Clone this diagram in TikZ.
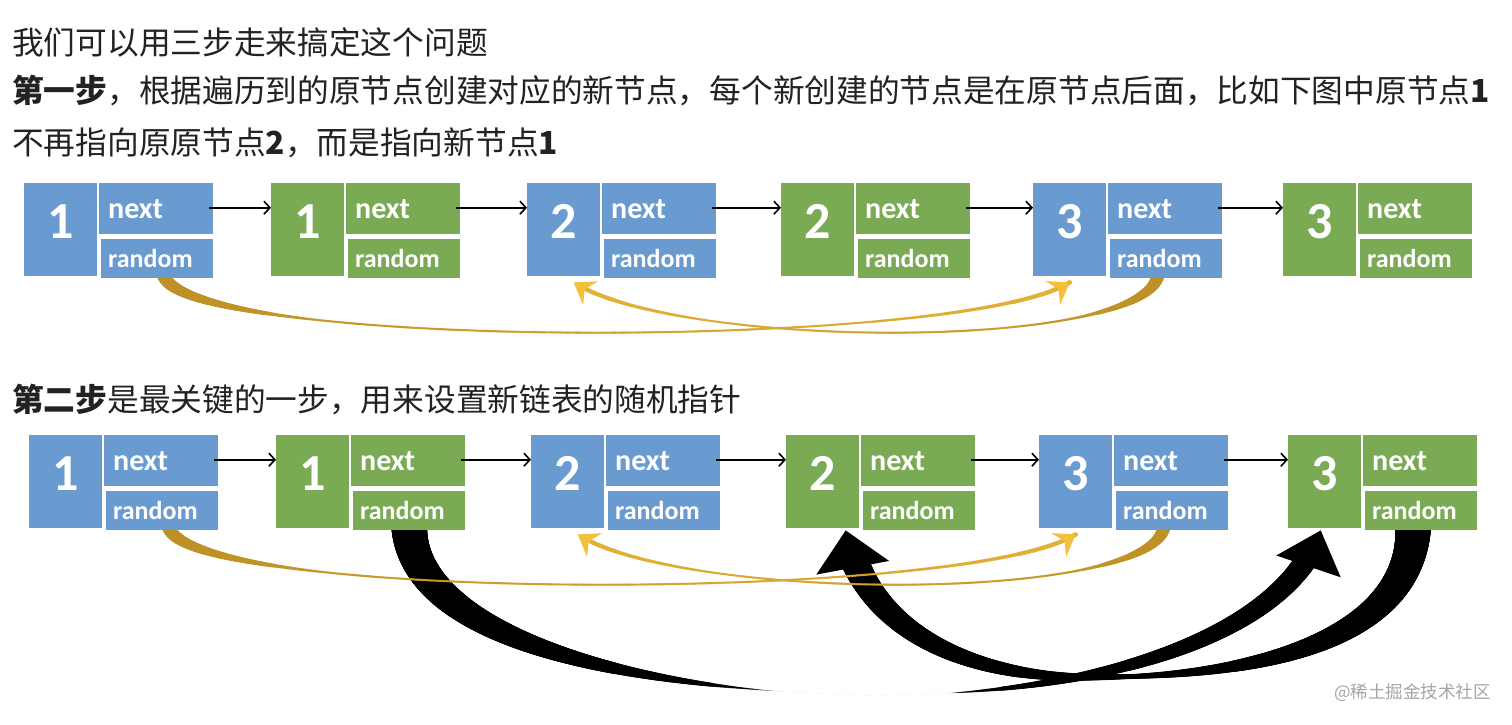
\documentclass[tikz,border=0pt]{standalone}
\usepackage{fontspec}
\usetikzlibrary{arrows.meta,calc,decorations.markings}
\newfontfamily\cjk{Noto Sans CJK SC}
\newfontfamily\carl{Carlito}
\newcommand\nodenumfont{\carl\bfseries\fontsize{52pt}{52pt}\selectfont}
\newcommand\nodenextfont{\carl\bfseries\fontsize{30pt}{32pt}\selectfont}
\newcommand\noderandfont{\carl\bfseries\fontsize{26pt}{28pt}\selectfont}
\newcommand\linefont{\cjk\fontsize{31.7pt}{38pt}\selectfont}
\newcommand\wmfont{\cjk\fontsize{17.5pt}{20pt}\selectfont}
\definecolor{nblue}{RGB}{106,155,208}
\definecolor{ngreen}{RGB}{122,171,84}
\definecolor{gA}{RGB}{188,144,38}
\definecolor{gB}{RGB}{228,178,52}
\definecolor{gHead}{RGB}{243,192,60}
\definecolor{txtc}{RGB}{34,34,34}
\definecolor{wmc}{RGB}{165,165,165}
\pgfdeclarelayer{back}\pgfdeclarelayer{bg}\pgfsetlayers{back,bg,main}
% tapered stroke: #1 colour, #2 width expression, #3 path
\newcommand\taper[3]{%
  \path[decorate,decoration={markings,
    mark=between positions 0 and 1 step 1pt with {%
      \pgfmathsetmacro\tpD{\pgfkeysvalueof{/pgf/decoration/mark info/distance from start}}%
      \pgfmathsetmacro\tpL{\pgfdecoratedpathlength}%
      \pgfmathsetmacro\tpS{\tpD/\tpL}%
      \pgfmathsetmacro\tpR{max(0.02,(#2)/2)}%
      \pgfmathtruncatemacro\tpP{100*(1-\tpS)}%
      \fill[#1] (0,0) circle[radius=\tpR pt];}}] #3;}
% triangular head: #1 colour, #2 tip, #3 control point, #4 length, #5 half width
\newcommand\blockhead[5]{%
  \coordinate (hb) at ($(#2)!#4!(#3)$);
  \fill[#1] (#2) -- ($(hb)!#5!90:(#2)$) -- ($(hb)!#5!-90:(#2)$) -- cycle;}
% notched head: #1 colour, #2 tip, #3 control point
\newcommand\goldhead[3]{%
  \coordinate (hb) at ($(#2)!20pt!(#3)$);
  \fill[#1] (#2) -- ($(hb)!14pt!90:(#2)$) -- ($(#2)!13pt!(#3)$) -- ($(hb)!14pt!-90:(#2)$) -- cycle;}
\tikzset{
  bigbox/.style={anchor=north west, minimum width=73pt, minimum height=93pt, inner sep=0pt, text=white, font=\nodenumfont, text depth=16pt},
  nextbox/.style={anchor=north west, minimum height=51pt, inner xsep=9pt, inner ysep=0pt, text width=96pt, align=left, text=white, font=\nodenextfont},
  randbox/.style={anchor=north west, minimum height=39pt, inner xsep=7pt, inner ysep=0pt, text width=98pt, align=left, text=white, font=\noderandfont},
  nextarrow/.style={draw=black, line width=1.6pt, -{Straight Barb[length=6pt,width=13pt]}},
  txt/.style={anchor=base west, inner sep=0pt, text=txtc, font=\linefont},
}
\begin{document}
\begin{tikzpicture}[x=1pt,y=-1pt]
\useasboundingbox (0,0) rectangle (1512,724);
\begin{pgfonlayer}{back}
  \fill[white] (0,0) rectangle (1512,724);
\end{pgfonlayer}

% text
\node[txt] (t1) at (12,54) {我们可以用三步走来搞定这个问题};
\node[txt] (t2) at (12,102) {\textbf{第一步}，根据遍历到的原节点创建对应的新节点，每个新创建的节点是在原节点后面，比如下图中原节点\textbf{1}};
\node[txt] (t3) at (12,154) {不再指向原原节点\textbf{2}，而是指向新节点\textbf{1}};
\node[txt] (t4) at (12,411) {\textbf{第二步}是最关键的一步，用来设置新链表的随机指针};
\node[anchor=base east, inner sep=0pt, text=wmc, font=\wmfont] (wm) at (1491,698) {@稀土掘金技术社区};

% row 1
\foreach \i/\L/\c/\d in {1/24/nblue/1, 2/271/ngreen/1, 3/527/nblue/2, 4/781/ngreen/2, 5/1033/nblue/3, 6/1283/ngreen/3} {
  \node[bigbox, fill=\c] (b-1-\i) at (\L,183) {\d};
  \node[nextbox, fill=\c] (n-1-\i) at (\L+75,183) {next};
  \node[randbox, fill=\c] (r-1-\i) at (\L+77,239) {random};
}
% row 2
\foreach \i/\L/\c/\d in {1/29/nblue/1, 2/276/ngreen/1, 3/531/nblue/2, 4/786/ngreen/2, 5/1039/nblue/3, 6/1288/ngreen/3} {
  \node[bigbox, fill=\c] (b-2-\i) at (\L,435) {\d};
  \node[nextbox, fill=\c] (n-2-\i) at (\L+75,435) {next};
  \node[randbox, fill=\c] (r-2-\i) at (\L+77,491) {random};
}
\foreach \r in {1,2} {
  \foreach \i [count=\j from 2] in {1,...,5} {
    \draw[nextarrow] ($(n-\r-\i.east)+(-4,-1)$) -- ($(b-\r-\j.west |- n-\r-\i.east)+(0,-1)$);
  }
}

% free points of the curves
\coordinate (cbot) at (865,695);
\coordinate (dmid) at (1075,677);
\coordinate (c-t) at ($(b-2-6.south)+(-4,2)$);
\coordinate (c-c) at ($(c-t)+(-38,112)$);
\coordinate (d-t) at ($(b-2-4.south)+(23,2)$);
\coordinate (d-c) at ($(d-t)+(18,96)$);
\foreach \r in {1,2} {
  \coordinate (ga-\r-t) at ($(b-\r-5.south)+(0,6)$);
  \coordinate (ga-\r-c) at ($(ga-\r-t)+(-109,68)$);
  \coordinate (gb-\r-t) at ($(b-\r-3.south)+(10,6)$);
  \coordinate (gb-\r-c) at ($(gb-\r-t)+(107,68)$);
}

\begin{pgfonlayer}{bg}
  % black arrows (step 2)
  \taper{black}{(36*max(0.0001,(0.42-\tpS)/0.42)^1.2*(\tpS<0.42) + 24*max(0.0001,(\tpS-0.58)/0.42)^0.85*(\tpS>0.58))*(\tpD<\tpL-34)}
    {($(r-2-2.south)+(0,-6)$) .. controls +(1,118) and +(-215,-3) .. (cbot) .. controls +(215,3) and (c-c) .. (c-t)}
  \blockhead{black}{c-t}{c-c}{38pt}{34pt}
  \taper{black}{(5 + 31*max(0.0001,(0.5-\tpS)/0.5)^1.3*(\tpS<0.5) + 26*max(0.0001,(\tpS-0.5)/0.5)^1.2*(\tpS>0.5))*(\tpD<\tpL-34)}
    {($(r-2-6.south)+(-8,-6)$) .. controls +(0,118) and +(175,3) .. (dmid) .. controls +(-115,-3) and (d-c) .. (d-t)}
  \blockhead{black}{d-t}{d-c}{38pt}{37pt}
  % gold arrows
  \foreach \r in {1,2} {
    \taper{gA!\tpP!gB}{(2.4 + 11*max(0,(0.2-\tpS)/0.2)*max(0,(0.2-\tpS)/0.2) + 2.4*max(0,(\tpS-0.75)/0.25))*(\tpD<\tpL-14)}
      {($(r-\r-1.south)+(6,-5)$) .. controls +(12,78) and (ga-\r-c) .. (ga-\r-t)}
    \goldhead{gHead}{ga-\r-t}{ga-\r-c}
    \taper{gA!\tpP!gB}{(2.4 + 11*max(0,(0.2-\tpS)/0.2)*max(0,(0.2-\tpS)/0.2) + 2.4*max(0,(\tpS-0.75)/0.25))*(\tpD<\tpL-14)}
      {($(r-\r-5.south)+(-8,-5)$) .. controls +(-8,78) and (gb-\r-c) .. (gb-\r-t)}
    \goldhead{gHead}{gb-\r-t}{gb-\r-c}
  }
\end{pgfonlayer}
\end{tikzpicture}
\end{document}
